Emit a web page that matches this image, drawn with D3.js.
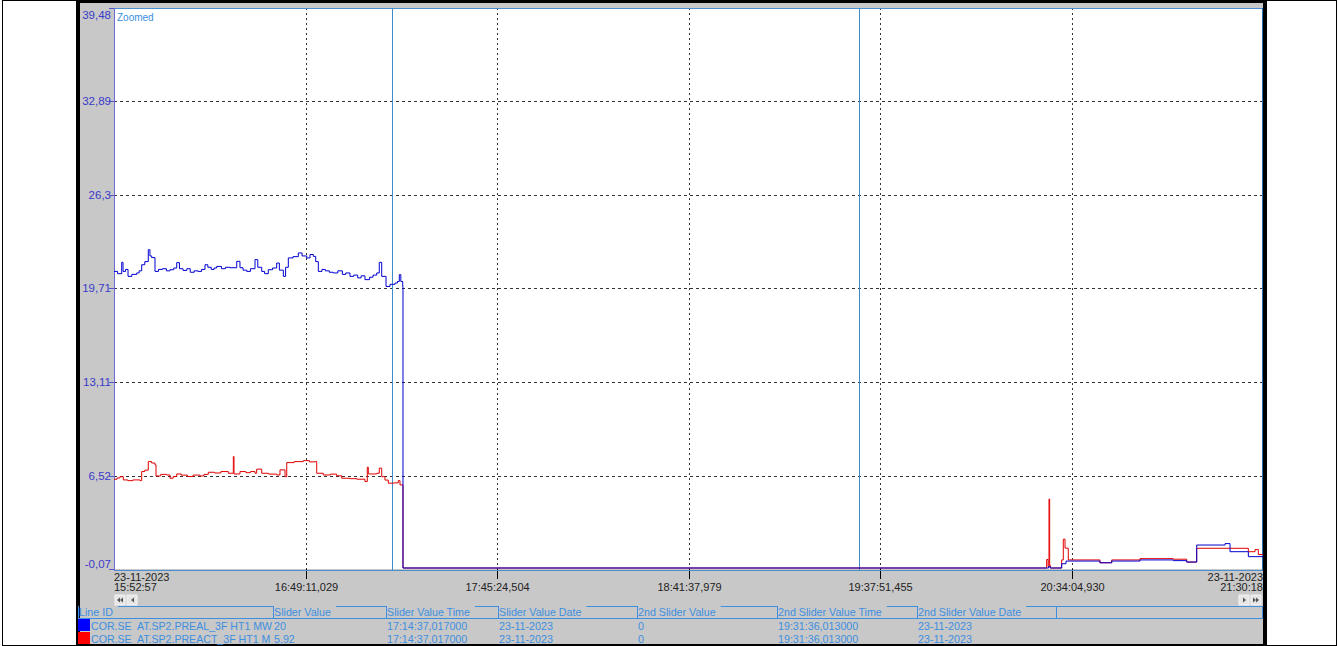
<!DOCTYPE html>
<html>
<head>
<meta charset="utf-8">
<script src="https://cdn.jsdelivr.net/npm/d3@7"></script>
<style>
  body { margin: 0; background: #fff; }
  svg text { font-family: "Liberation Sans", Arial, sans-serif; white-space: pre; }
</style>
</head>
<body>
<svg id="chart" width="1339" height="646"></svg>
<script>
// --- data ---
let day = "2023-11-23";
let startTime = "15:52:57";
let endTime = "21:30:18";

let yTicks = [-0.07, 6.52, 13.11, 19.71, 26.3, 32.89, 39.48];
let yTickLabels = ["-0,07", "6,52", "13,11", "19,71", "26,3", "32,89", "39,48"];

let xTickTimes = ["16:49:11.029", "17:45:24.504", "18:41:37.979", "19:37:51.455", "20:34:04.930"];
let xTickLabels = ["16:49:11,029", "17:45:24,504", "18:41:37,979", "19:37:51,455", "20:34:04,930"];

let sliderTimes = ["17:14:37", "19:31:36"];

// active power (blue)
let blueTimes = ["15:52:57","15:54:00","15:55:13","15:55:36","15:56:20","15:57:04","15:58:10","15:59:37","16:00:20","16:01:05",
  "16:02:00","16:03:01","16:03:30","16:04:01","16:04:59","16:06:00","16:07:10","16:08:20","16:09:23","16:10:30",
  "16:11:22","16:12:10","16:13:13","16:14:20","16:15:20","16:16:30","16:17:37","16:18:40","16:19:40","16:20:30",
  "16:21:30","16:22:20","16:23:06","16:24:30","16:25:40","16:27:01","16:28:59","16:29:56","16:30:50","16:31:55",
  "16:33:00","16:34:21","16:35:10","16:36:19","16:37:10","16:38:15","16:39:30","16:40:43","16:41:30","16:42:40",
  "16:43:20","16:44:08","16:45:30","16:47:04","16:48:10","16:49:32","16:50:30","16:51:28","16:52:10","16:52:56",
  "16:54:00","16:55:00","16:56:10","16:57:20","16:58:40","17:00:00","17:01:00","17:02:14","17:03:20","17:04:30",
  "17:05:30","17:06:38","17:08:00","17:09:00","17:10:05","17:10:50","17:11:33","17:12:49","17:14:00","17:15:27",
  "17:16:10","17:16:43","17:17:10","17:17:43","17:17:48",
  "20:27:20","20:27:51","20:31:11","20:32:28","20:42:26","20:45:53","20:54:11","21:03:58","21:07:54","21:10:50",
  "21:19:09","21:20:37","21:26:00","21:30:18"];
let blueValues = [20.91,20.75,21.55,20.91,21.05,20.56,20.70,20.80,20.95,21.38,
  21.60,22.44,22.00,21.88,20.91,21.05,21.10,20.95,21.03,21.15,
  21.53,21.10,20.98,21.10,20.85,20.95,20.91,21.05,21.38,21.20,
  21.05,21.15,21.26,21.10,21.20,21.17,21.62,21.17,21.00,20.91,
  21.10,21.74,21.20,20.91,20.75,21.03,21.15,21.50,21.00,20.56,
  21.20,21.86,21.95,22.21,22.00,21.86,22.10,21.97,21.60,20.91,
  21.05,20.95,20.85,20.80,20.95,20.70,20.80,20.56,20.65,20.45,
  20.60,20.33,20.50,20.65,20.80,21.55,20.56,19.85,20.00,20.09,
  20.20,20.68,20.20,19.85,0,
  0.1,0,0.3,0.49,0.37,0.49,0.57,0.52,0.42,1.62,
  1.72,1.15,0.80,0.80];

// reactive power (red)
let redTimes = ["15:52:57","15:53:50","15:54:43","15:55:41","15:57:00","15:58:30","16:00:35","16:01:05","16:02:00","16:03:01",
  "16:04:00","16:04:59","16:05:17","16:06:40","16:08:25","16:09:23","16:10:20","16:11:22","16:12:40","16:14:30",
  "16:16:10","16:18:12","16:19:20","16:20:38","16:22:30","16:24:20","16:26:31","16:27:59","16:28:11","16:29:56",
  "16:31:40","16:33:00","16:34:21","16:34:50","16:36:19","16:38:20","16:40:43","16:41:41","16:43:10","16:43:40",
  "16:45:50","16:48:32","16:50:20","16:51:58","16:52:28","16:54:24","16:56:30","16:58:20","16:59:48","17:02:00",
  "17:04:13","17:06:38","17:07:19","17:07:37","17:10:05","17:10:50","17:11:33","17:12:30","17:13:29","17:15:00",
  "17:16:25","17:16:55","17:17:48",
  "20:26:47","20:27:12","20:27:28","20:27:40","20:27:51","20:31:11","20:31:40","20:32:10","20:33:08","20:42:26",
  "20:45:53","20:54:11","21:03:58","21:07:54","21:10:50","21:26:00","21:27:58","21:28:56","21:30:18"];
let redValues = [6.26,6.35,6.44,6.21,6.16,6.21,6.16,6.80,6.90,7.50,
  7.40,7.27,6.49,6.60,6.56,6.33,6.45,6.63,6.55,6.45,
  6.55,6.49,6.60,6.75,6.70,6.80,6.68,7.86,6.63,6.80,
  6.72,6.80,6.68,6.97,6.68,6.62,6.56,6.92,6.44,7.43,
  7.50,7.57,7.48,7.50,6.68,6.56,6.62,6.50,6.33,6.30,
  6.26,6.09,7.11,6.63,6.68,7.04,6.44,6.20,5.98,6.00,
  6.16,5.86,0,
  0.6,0.1,4.86,0.2,0,0.57,2.03,1.4,0.57,0.37,
  0.57,0.66,0.62,0.42,1.39,1.15,1.3,0.95,0.95];

let columns = ["Line ID", "Slider Value", "Slider Value Time", "Slider Value Date", "2nd Slider Value", "2nd Slider Value Time", "2nd Slider Value Date", ""];
let rowNames = ["COR.SE  AT.SP2.PREAL_3F HT1 MW", "COR.SE  AT.SP2.PREACT_3F HT1 MVAR"];
let rowColors = ["#0000ff", "#ff0000"];
let rowValues = [
  ["20", "17:14:37,017000", "23-11-2023", "0", "19:31:36,013000", "23-11-2023"],
  ["5,92", "17:14:37,017000", "23-11-2023", "0", "19:31:36,013000", "23-11-2023"]
];

// --- drawing ---
let parseT = d3.timeParse("%Y-%m-%d %H:%M:%S");
let parseMs = d3.timeParse("%Y-%m-%d %H:%M:%S.%L");
let T = s => s.indexOf(".") > 0 ? parseMs(day + " " + s) : parseT(day + " " + s);

let svg = d3.select("#chart");
let plotL = 114, plotR = 1263, plotT = 8, plotB = 569;

let x = d3.scaleTime().domain([T(startTime), T(endTime)]).range([plotL, plotR]);
let y = d3.scaleLinear().domain([yTicks[0], yTicks[yTicks.length - 1]]).range([plotB, plotT]);

// page border
svg.append("rect").attr("x", 2.5).attr("y", 0.5).attr("width", 1334).attr("height", 645)
  .attr("fill", "none").attr("stroke", "#000");

// panel
svg.append("rect").attr("x", 76).attr("y", 0).attr("width", 1191).attr("height", 646).attr("fill", "#000");
svg.append("rect").attr("x", 80).attr("y", 3).attr("width", 1183).attr("height", 641).attr("fill", "#c8c8c8");

// plot area
svg.append("rect").attr("x", plotL).attr("y", plotT).attr("width", plotR - plotL).attr("height", plotB - plotT)
  .attr("fill", "#fff");

// horizontal grid
svg.append("g").selectAll("line")
  .data(yTicks.slice(1, -1))
  .enter().append("line")
  .attr("x1", plotL).attr("x2", plotR)
  .attr("y1", d => Math.round(y(d)) + 0.5).attr("y2", d => Math.round(y(d)) + 0.5)
  .attr("stroke", "#333").attr("stroke-dasharray", "3,3");

// vertical grid
svg.append("g").selectAll("line")
  .data(xTickTimes)
  .enter().append("line")
  .attr("x1", d => Math.round(x(T(d))) + 0.5).attr("x2", d => Math.round(x(T(d))) + 0.5)
  .attr("y1", plotT).attr("y2", plotB)
  .attr("stroke", "#333").attr("stroke-dasharray", "2,3");

// x tick marks + labels
let xt = svg.append("g").selectAll("g").data(xTickTimes).enter().append("g")
  .attr("transform", d => "translate(" + (Math.round(x(T(d))) + 0.5) + ",0)");
xt.append("line").attr("y1", plotB).attr("y2", plotB + 10).attr("stroke", "#000");
xt.append("text").attr("y", 591).attr("text-anchor", "middle").attr("font-size", 11).attr("fill", "#222")
  .text((d, i) => xTickLabels[i]);

svg.append("text").attr("x", plotL).attr("y", 581).attr("font-size", 11).attr("fill", "#222").text("23-11-2023");
svg.append("text").attr("x", plotL).attr("y", 591).attr("font-size", 11).attr("fill", "#222").text(startTime);
svg.append("text").attr("x", plotR).attr("y", 581).attr("font-size", 11).attr("fill", "#222")
  .attr("text-anchor", "end").text("23-11-2023");
svg.append("text").attr("x", plotR).attr("y", 591).attr("font-size", 11).attr("fill", "#222")
  .attr("text-anchor", "end").text(endTime);

// y tick labels
let yt = svg.append("g").selectAll("g").data(yTicks).enter().append("g");
yt.append("line").attr("x1", plotL - 5).attr("x2", plotL)
  .attr("y1", d => Math.round(y(d)) + 0.5).attr("y2", d => Math.round(y(d)) + 0.5)
  .attr("stroke", "#5555cc");
yt.append("text").attr("x", plotL - 3).attr("text-anchor", "end").attr("font-size", 11.5).attr("fill", "#3a3ac8")
  .attr("y", (d, i) => i == yTicks.length - 1 ? y(d) + 11 : (i == 0 ? y(d) - 1 : y(d) + 4))
  .text((d, i) => yTickLabels[i]);

// plot borders
svg.append("line").attr("x1", plotL).attr("x2", plotR).attr("y1", plotT + 0.5).attr("y2", plotT + 0.5).attr("stroke", "#4a8fd0");
svg.append("line").attr("x1", plotL).attr("x2", plotR).attr("y1", plotB + 1.5).attr("y2", plotB + 1.5).attr("stroke", "#4a8fd0");
svg.append("line").attr("x1", plotL + 0.5).attr("x2", plotL + 0.5).attr("y1", plotT).attr("y2", plotB + 2).attr("stroke", "#6b6bd6");
svg.append("line").attr("x1", plotR - 0.5).attr("x2", plotR - 0.5).attr("y1", plotT).attr("y2", plotB + 2).attr("stroke", "#2a6fb0");

// sliders
svg.append("g").selectAll("line").data(sliderTimes).enter().append("line")
  .attr("x1", d => Math.round(x(T(d))) + 0.5).attr("x2", d => Math.round(x(T(d))) + 0.5)
  .attr("y1", plotT).attr("y2", plotB + 1)
  .attr("stroke", "#3c8ccc");

svg.append("text").attr("x", 117).attr("y", 21).attr("font-size", 10).attr("fill", "#3a8ee0").text("Zoomed");

// series
let line = d3.line().curve(d3.curveStepAfter).x(d => x(d.t)).y(d => y(d.v));
let blueData = blueTimes.map((t, i) => ({ t: T(t), v: blueValues[i] }));
let redData = redTimes.map((t, i) => ({ t: T(t), v: redValues[i] }));

svg.append("path").datum(redData).attr("d", line).attr("fill", "none").attr("stroke", "#e00000").attr("stroke-width", 1);
svg.append("path").datum(blueData).attr("d", line).attr("fill", "none").attr("stroke", "#0000d0").attr("stroke-width", 1);

// scroll buttons
function button(bx, kind) {
  let g = svg.append("g").attr("transform", "translate(" + bx + ",595)");
  g.append("rect").attr("width", 10).attr("height", 10).attr("fill", "#e6e6e6").attr("stroke", "#f4f4f4");
  let tri = (x0, dir) => dir < 0 ? [[x0 + 3, 2.5], [x0 + 3, 7.5], [x0, 5]] : [[x0, 2.5], [x0, 7.5], [x0 + 3, 5]];
  let pts = [];
  if (kind == "ll") pts = [tri(2, -1), tri(5, -1)];
  if (kind == "l") pts = [tri(4, -1)];
  if (kind == "r") pts = [tri(4, 1)];
  if (kind == "rr") pts = [tri(2, 1), tri(5, 1)];
  pts.forEach(p => g.append("polygon").attr("points", p.map(q => q.join(",")).join(" ")).attr("fill", "#555"));
}
button(115, "ll"); button(127, "l"); button(1239, "r"); button(1251, "rr");

// table
let colX = [78, 273, 386, 498, 637, 777, 917, 1056, 1263];
let tcolor = "#3d8fe0";
let tsize = 10.7;
let head = svg.append("g");
columns.forEach((c, i) => {
  let x0 = colX[i], x1 = colX[i + 1];
  let t = head.append("text").attr("x", x0 + 1).attr("y", 616).attr("font-size", tsize).attr("fill", tcolor).text(c);
  let w = c ? t.node().getComputedTextLength() + 6 : 0;
  head.append("line").attr("x1", x0 + 0.5).attr("x2", x0 + 0.5).attr("y1", 606).attr("y2", 618).attr("stroke", tcolor);
  head.append("line").attr("x1", x0 + w).attr("x2", x1).attr("y1", 606.5).attr("y2", 606.5).attr("stroke", tcolor);
  head.append("line").attr("x1", x0).attr("x2", x1).attr("y1", 618.5).attr("y2", 618.5).attr("stroke", tcolor);
});
head.append("line").attr("x1", plotR - 0.5).attr("x2", plotR - 0.5).attr("y1", 606).attr("y2", 619).attr("stroke", tcolor);

rowNames.forEach((n, r) => {
  let ry = 619 + r * 13;
  svg.append("rect").attr("x", 78).attr("y", ry).attr("width", 12).attr("height", 12).attr("fill", rowColors[r]);
  let t = svg.append("text").attr("x", 91).attr("y", ry + 10.5).attr("font-size", 10.6).attr("fill", tcolor).text(n);
  // cut the id to its column, as the grid does
  let s = n;
  while (t.node().getComputedTextLength() > colX[1] - 90 && s.length > 1) {
    s = s.slice(0, -1);
    t.text(s);
  }
  rowValues[r].forEach((v, j) => {
    svg.append("text").attr("x", colX[j + 1] + 1).attr("y", ry + 10.5).attr("font-size", tsize).attr("fill", tcolor).text(v);
  });
});
</script>
</body>
</html>
